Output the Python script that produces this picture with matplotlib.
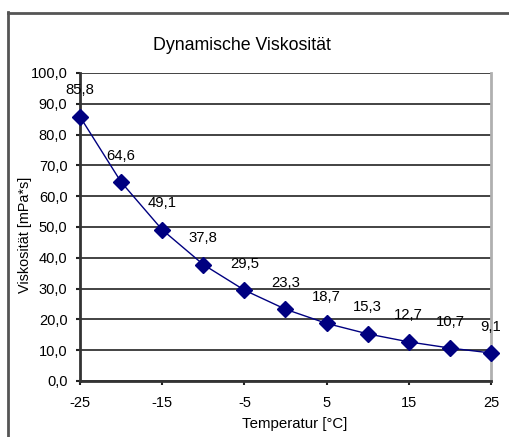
import matplotlib
matplotlib.use("Agg")
import matplotlib.pyplot as plt
from matplotlib.lines import Line2D

temps = [-25, -20, -15, -10, -5, 0, 5, 10, 15, 20, 25]
visc = [85.8, 64.6, 49.1, 37.8, 29.5, 23.3, 18.7, 15.3, 12.7, 10.7, 9.1]
xticks = [-25, -15, -5, 5, 15, 25]
yticks = [0, 10, 20, 30, 40, 50, 60, 70, 80, 90, 100]

plt.rcParams['font.family'] = ['Liberation Sans', 'DejaVu Sans']

fig = plt.figure(figsize=(5.10, 4.37), dpi=100)
ax = fig.add_axes([80/510, 56/437, 411/510, 308/437])

# outer chart frame
fig.add_artist(Line2D([8.5/510, 8.5/510], [0, 1 - 12/437], transform=fig.transFigure,
                      color='#555555', lw=2))
fig.add_artist(Line2D([8.5/510, 1.0], [1 - 12.5/437, 1 - 12.5/437], transform=fig.transFigure,
                      color='#555555', lw=2))

ax.plot(temps, visc, color='#000080', lw=1, marker='D', markersize=8.5,
        markerfacecolor='#000080', markeredgecolor='#000080', zorder=3, clip_on=False)

for t, v in zip(temps, visc):
    ax.annotate(f"{v:.1f}".replace('.', ','), (t, v), xytext=(0, 19),
                textcoords='offset points', ha='center', va='center', fontsize=10.7)

ax.set_xlim(-25, 25)
ax.set_ylim(0, 100)
ax.set_xticks(xticks)
ax.set_xticklabels([str(x) for x in xticks])
ax.set_yticks(yticks)
ax.set_yticklabels([f"{y:.1f}".replace('.', ',') for y in yticks])
ax.tick_params(axis='both', direction='out', length=3, width=1.5, labelsize=10.5, color='#222222')
ax.tick_params(axis='x', pad=8)
ax.tick_params(axis='y', pad=6)

ax.grid(axis='y', color='#222222', lw=1.2)
ax.set_axisbelow(True)
ax.spines['top'].set_visible(False)
ax.spines['left'].set_color('#333333')
ax.spines['left'].set_linewidth(2)
ax.spines['bottom'].set_color('#333333')
ax.spines['bottom'].set_linewidth(2)
ax.spines['right'].set_color('#b0b0b0')
ax.spines['right'].set_linewidth(2)

fig.text(241.5/510, 1 - 45/437, "Dynamische Viskosität", ha='center', va='center', fontsize=12.8)
fig.text(294.5/510, 1 - 424/437, "Temperatur [°C]", ha='center', va='center', fontsize=10.8)
fig.text(25/510, 1 - 235/437, "Viskosität [mPa*s]", ha='center', va='center', fontsize=10.4, rotation=90)

fig.savefig("out.png", dpi=100)
